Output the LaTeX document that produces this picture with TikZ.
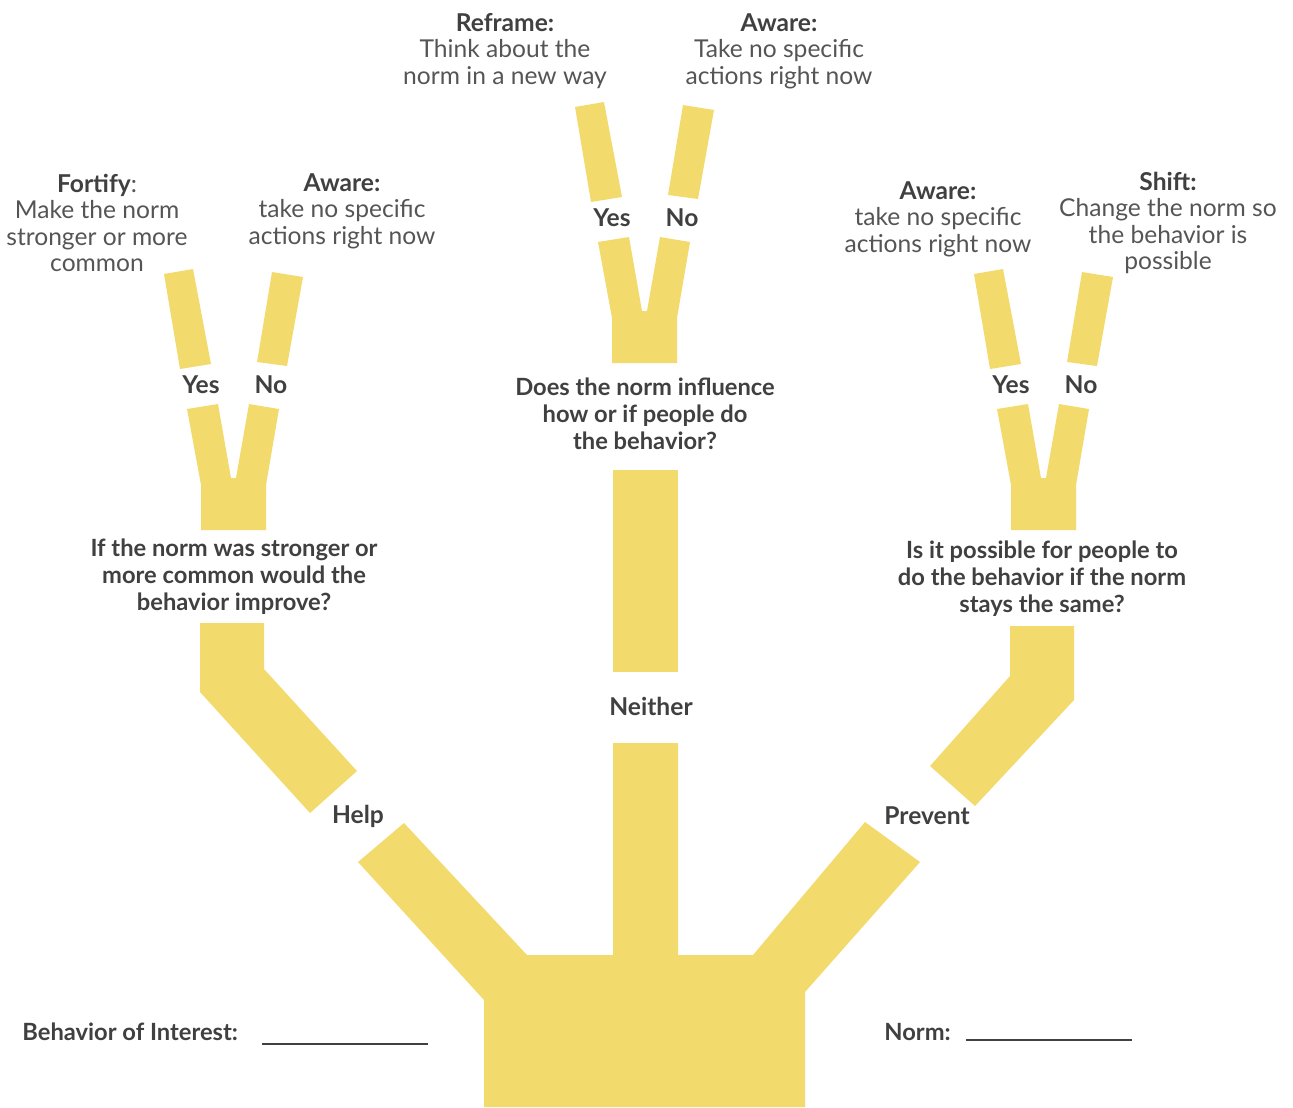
\documentclass[tikz,border=0pt]{standalone}
\usepackage{fontspec}
\setmainfont{Lato}
\usepackage{tikz}
\definecolor{limbyellow}{HTML}{F3DA6C}
\definecolor{ink}{HTML}{404040}
\definecolor{soft}{HTML}{555555}

\begin{document}
\begin{tikzpicture}[x=0.02cm,y=-0.02cm,
   branch/.style={fill=limbyellow},
   ask/.style={align=center,text=ink,inner sep=0pt,
      font=\fontsize{13.5}{15.3}\selectfont\bfseries},
   pick/.style={text=ink,inner sep=0pt,font=\fontsize{14}{15}\selectfont\bfseries},
   act/.style={align=center,text=soft,inner sep=0pt,
      font=\fontsize{14}{15.1}\selectfont}]

 \useasboundingbox (0,0) rectangle (1293,1107);

 % trunk and the three main limbs
 \fill[branch] (484,1107) -- (484,1000) -- (358,862) -- (404,823) -- (527,955)
   -- (613,955) -- (613,743) -- (678,743) -- (678,955) -- (753,955)
   -- (865,822) -- (920,862) -- (805,992) -- (805,1107) -- cycle;
 \fill[branch] (613,470) rectangle (678,672);
 \fill[branch] (200,623) -- (264,623) -- (264,669) -- (357,771) -- (310,813) -- (200,692) -- cycle;
 \fill[branch] (1010,626) -- (1074,626) -- (1074,700) -- (975,806) -- (930,766) -- (1010,676) -- cycle;

 % the three forks
 \foreach \n/\fx/\fy in {L/201/530, M/612/363, R/1011/530}
 {\begin{scope}[shift={(\fx,\fy)}]
   \fill[branch] (0,0) -- (0,-45) -- (-14,-121) -- (17,-126) -- (30,-52) -- (35,-52)
     -- (48,-126) -- (78,-121) -- (65,-45) -- (65,0) -- cycle;
   \fill[branch] (-37,-256) -- (-8,-261) -- (10,-166) -- (-21,-161) -- cycle;
   \fill[branch] (71,-258) -- (102,-253) -- (86,-164) -- (56,-168) -- cycle;
   \node[pick] (yes\n) at (0,-145) {Yes};
   \node[pick] (no\n) at (70,-145) {No};
  \end{scope}}

 \node[ask] (qL) at (234,577) {If the norm was stronger or\\more common would the\\behavior improve?};
 \node[ask] (qM) at (645,414) {Does the norm influence\\how or if people do\\the behavior?};
 \node[ask] (qR) at (1042,579) {Is it possible for people to\\do the behavior if the norm\\stays the same?};

 \node[pick] (help) at (358,816) {Help};
 \node[pick] (neither) at (651,706) {Neither};
 \node[pick] (prevent) at (927,816) {Prevent};

 \node[act] (fortify) at (97,223) {{\color{ink}\bfseries Fortify}:\\Make the norm\\stronger or more\\common};
 \node[act] (awareL) at (342,211) {{\color{ink}\bfseries Aware:}\\take no specific\\actions right now};
 \node[act] (reframe) at (505,51) {{\color{ink}\bfseries Reframe:}\\Think about the\\norm in a new way};
 \node[act] (awareM) at (779,51) {{\color{ink}\bfseries Aware:}\\Take no specific\\actions right now};
 \node[act] (awareR) at (938,219) {{\color{ink}\bfseries Aware:}\\take no specific\\actions right now};
 \node[act] (shift) at (1168,223) {{\color{ink}\bfseries Shift:}\\Change the norm so\\the behavior is\\possible};

 \node[ask,anchor=west] (behav) at (22,1032) {Behavior of Interest:};
 \node[ask,anchor=west] (norm) at (884,1032) {Norm:};
 \draw[ink,line width=1.1pt] (262,1044) -- (428,1044);
 \draw[ink,line width=1.1pt] (966,1040) -- (1132,1040);

\end{tikzpicture}
\end{document}
